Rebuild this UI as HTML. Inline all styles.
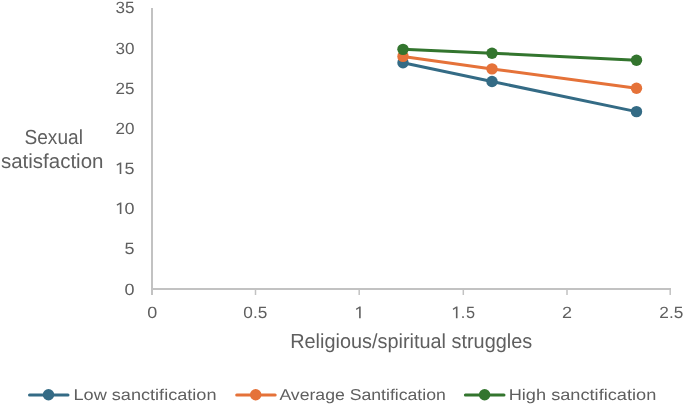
<!DOCTYPE html>
<html>
<head>
<meta charset="utf-8">
<style>
html,body{margin:0;padding:0;background:#fff;}
body{width:685px;height:405px;overflow:hidden;}
svg{display:block;will-change:transform;}
text{text-rendering:geometricPrecision;font-family:"Liberation Sans", sans-serif;fill:#5f5f5f;}
</style>
</head>
<body>
<svg width="685" height="405" viewBox="0 0 685 405">
<defs><path id="one" fill="#5f5f5f" d="M0.8,0 L0.8,-11.6 L-0.4,-11.6 L-4,-9.5 L-3.4,-8.2 L-0.8,-9.9 L-0.8,0 Z"/></defs>
<!-- axes -->
<g stroke="#c2c2c2" fill="none">
<line x1="152" y1="8" x2="152" y2="295" stroke-width="2"/>
<line x1="151" y1="289" x2="671" y2="289" stroke-width="2"/>
<line x1="255.5" y1="289" x2="255.5" y2="295" stroke-width="1.5"/>
<line x1="359.2" y1="289" x2="359.2" y2="295" stroke-width="1.5"/>
<line x1="463.3" y1="289" x2="463.3" y2="295" stroke-width="1.5"/>
<line x1="567" y1="289" x2="567" y2="295" stroke-width="1.5"/>
<line x1="670.2" y1="288" x2="670.2" y2="295" stroke-width="1.5"/>
</g>
<!-- y tick labels -->
<g font-size="16.3" text-anchor="end">
<text x="134.4" y="12.8" textLength="19" lengthAdjust="spacingAndGlyphs">35</text>
<text x="134.4" y="53.7" textLength="19" lengthAdjust="spacingAndGlyphs">30</text>
<text x="134.4" y="93.9" textLength="19" lengthAdjust="spacingAndGlyphs">25</text>
<text x="134.4" y="134.0" textLength="19" lengthAdjust="spacingAndGlyphs">20</text>
<text x="134.4" y="174.2" textLength="10" lengthAdjust="spacingAndGlyphs">5</text>
<use href="#one" x="120.5" y="174.05"/>
<text x="134.4" y="214.3" textLength="10" lengthAdjust="spacingAndGlyphs">0</text>
<use href="#one" x="120.6" y="214.05"/>
<text x="134.4" y="254.4" textLength="10" lengthAdjust="spacingAndGlyphs">5</text>
<text x="134.4" y="294.6" textLength="10" lengthAdjust="spacingAndGlyphs">0</text>
</g>
<!-- x tick labels -->
<g font-size="16.3" text-anchor="middle">
<text x="152.3" y="318.3" textLength="10" lengthAdjust="spacingAndGlyphs">0</text>
<text x="255.3" y="318.3" textLength="24" lengthAdjust="spacingAndGlyphs">0.5</text>
<use href="#one" x="359.9" y="318.2"/>
<use href="#one" x="456.7" y="318.2"/>
<text x="475" y="318.3" text-anchor="end">.<tspan dx="0.7">5</tspan></text>
<text x="567" y="318.3" textLength="10" lengthAdjust="spacingAndGlyphs">2</text>
<text x="671.3" y="318.3" textLength="24" lengthAdjust="spacingAndGlyphs">2.5</text>
</g>
<!-- axis titles -->
<g font-size="20.3">
<text x="24.5" y="143.9" textLength="58.4" lengthAdjust="spacingAndGlyphs">Sexual</text>
<text x="0.9" y="168.1" textLength="102.6" lengthAdjust="spacingAndGlyphs">satisfaction</text>
<text x="290.2" y="347.8" textLength="242" lengthAdjust="spacingAndGlyphs">Religious/spiritual struggles</text>
</g>
<!-- series -->
<g fill="none" stroke-width="3" stroke-linejoin="round" stroke-linecap="round">
<polyline stroke="#346b85" points="403,62.75 492,81.55 636.5,111.65"/>
<polyline stroke="#e57239" points="403,56.4 492,68.9 636.5,88.2"/>
<polyline stroke="#33752e" points="403,49.35 492,53.25 636.5,60.2"/>
</g>
<g>
<circle cx="403" cy="62.75" r="5.7" fill="#346b85"/>
<circle cx="492" cy="81.55" r="5.7" fill="#346b85"/>
<circle cx="636.5" cy="111.65" r="5.7" fill="#346b85"/>
<circle cx="403" cy="56.4" r="5.7" fill="#e57239"/>
<circle cx="492" cy="68.9" r="5.7" fill="#e57239"/>
<circle cx="636.5" cy="88.2" r="5.7" fill="#e57239"/>
<circle cx="403" cy="49.35" r="5.7" fill="#33752e"/>
<circle cx="492" cy="53.25" r="5.7" fill="#33752e"/>
<circle cx="636.5" cy="60.2" r="5.7" fill="#33752e"/>
</g>
<!-- legend -->
<g stroke-width="3" stroke-linecap="round">
<line x1="29.5" y1="395" x2="68" y2="395" stroke="#346b85"/>
<line x1="236.7" y1="395" x2="275.2" y2="395" stroke="#e57239"/>
<line x1="465.4" y1="395" x2="504" y2="395" stroke="#33752e"/>
</g>
<circle cx="48.5" cy="394.7" r="5.7" fill="#346b85"/>
<circle cx="255.7" cy="394.7" r="5.7" fill="#e57239"/>
<circle cx="484.6" cy="394.7" r="5.7" fill="#33752e"/>
<g font-size="15.7">
<text x="73.5" y="400.4" textLength="143" lengthAdjust="spacingAndGlyphs">Low sanctification</text>
<text x="279.4" y="400.4" textLength="166.4" lengthAdjust="spacingAndGlyphs">Average Santification</text>
<text x="508.7" y="400.4" textLength="147.6" lengthAdjust="spacingAndGlyphs">High sanctification</text>
</g>
</svg>
</body>
</html>
